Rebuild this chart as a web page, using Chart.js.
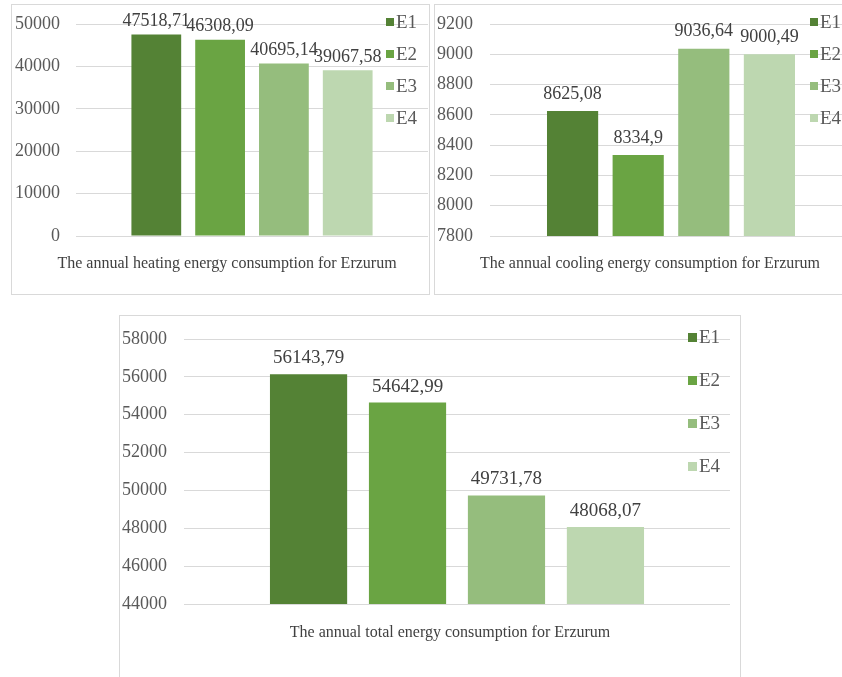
<!DOCTYPE html>
<html>
<head>
<meta charset="utf-8">
<script src="https://cdn.jsdelivr.net/npm/chart.js@4.4.1/dist/chart.umd.min.js"></script>
<style>
  html, body { margin: 0; padding: 0; background: #fff; overflow: hidden; }
  #page { position: relative; width: 842px; height: 677px; overflow: hidden; background: #fff; }
  .panel { position: absolute; box-sizing: border-box; border: 1px solid #d9d9d9; background: #fff; }
  .panel canvas { position: absolute; left: 0; top: 0; }
</style>
</head>
<body>
<div id="page">
  <div class="panel" style="left:11px; top:4px; width:419px; height:291px;">
    <canvas id="heating" width="417" height="289"></canvas>
  </div>
  <div class="panel" style="left:434px; top:4px; width:440px; height:291px;">
    <canvas id="cooling" width="438" height="289"></canvas>
  </div>
  <div class="panel" style="left:119px; top:315px; width:622px; height:400px;">
    <canvas id="total" width="620" height="361"></canvas>
  </div>
</div>
<script>
// series
var seriesNames = ["E1", "E2", "E3", "E4"];
var seriesColors = ["#548235", "#6aa443", "#95bd7d", "#bdd7b0"];

// heating
var heatingCategory = ["The annual heating energy consumption for Erzurum"];
var heatingValues = [47518.71, 46308.09, 40695.14, 39067.58];
var heatingTicks = [0, 10000, 20000, 30000, 40000, 50000];

// cooling
var coolingCategory = ["The annual cooling energy consumption for Erzurum"];
var coolingValues = [8625.08, 8334.9, 9036.64, 9000.49];
var coolingTicks = [7800, 8000, 8200, 8400, 8600, 8800, 9000, 9200];

// total
var totalCategory = ["The annual total energy consumption for Erzurum"];
var totalValues = [56143.79, 54642.99, 49731.78, 48068.07];
var totalTicks = [44000, 46000, 48000, 50000, 52000, 54000, 56000, 58000];

Chart.defaults.font.family = '"Liberation Serif", "Times New Roman", serif';
Chart.defaults.color = "#595959";

// value above each bar, decimal comma
var barLabels = {
    id: "barLabels",
    afterDatasetsDraw: function(chart, args, opts){
        var ctx = chart.ctx;
        ctx.save();
        ctx.font = opts.size + 'px "Liberation Serif", serif';
        ctx.fillStyle = "#404040";
        ctx.textAlign = "center";
        ctx.textBaseline = "middle";
        chart.data.datasets.forEach(function(ds, i){
            chart.getDatasetMeta(i).data.forEach(function(bar, j){
                ctx.fillText(String(ds.data[j]).replace(".", ","), bar.x, bar.y - opts.offset);
            });
        });
        ctx.restore();
    }
};

// legend sitting on the right edge of the plot
var sideLegend = {
    id: "sideLegend",
    afterDraw: function(chart, args, opts){
        var ctx = chart.ctx;
        var a = chart.chartArea;
        ctx.save();
        ctx.font = '19px "Liberation Serif", serif';
        ctx.textAlign = "left";
        ctx.textBaseline = "middle";
        chart.data.datasets.forEach(function(ds, i){
            var y = a.top + opts.first + i * opts.step;
            var x = a.right - opts.inset;
            ctx.fillStyle = ds.backgroundColor;
            ctx.fillRect(x, Math.round(y - opts.box / 2), opts.box, opts.box);
            ctx.fillStyle = "#595959";
            ctx.fillText(ds.label, x + opts.box + 2, y + 1);
        });
        ctx.restore();
    }
};

function makeChart(id, category, values, ticks, cfg){
    var datasets = seriesNames.map(function(name, i){
        return {
            label: name,
            data: [values[i]],
            backgroundColor: seriesColors[i],
            borderWidth: 0,
            barPercentage: 0.78,
            categoryPercentage: 0.725
        };
    });
    return new Chart(document.getElementById(id), {
        type: "bar",
        data: { labels: category, datasets: datasets },
        plugins: [barLabels, sideLegend],
        options: {
            responsive: false,
            animation: false,
            layout: { padding: { left: 0, right: cfg.right, top: cfg.top, bottom: 0 } },
            plugins: {
                legend: { display: false },
                tooltip: { enabled: false },
                barLabels: { size: cfg.labelSize, offset: cfg.labelOffset },
                sideLegend: { first: -2, step: cfg.legendStep, inset: 42, box: cfg.box }
            },
            scales: {
                x: {
                    grid: { display: false, drawTicks: false },
                    border: { display: false },
                    ticks: {
                        color: "#404040",
                        font: { size: 16 },
                        padding: cfg.titlePad,
                        labelOffset: cfg.titleShift,
                        maxRotation: 0,
                        autoSkip: false
                    },
                    afterFit: function(scale){
                        scale.height = cfg.xHeight;
                        scale.paddingLeft = 0;
                        scale.paddingRight = 0;
                    }
                },
                y: {
                    min: ticks[0],
                    max: ticks[ticks.length - 1],
                    grid: { color: "#d9d9d9", lineWidth: 1, drawTicks: false },
                    border: { display: false },
                    ticks: {
                        font: { size: 18 },
                        padding: cfg.tickPad,
                        callback: function(v){ return String(v); }
                    },
                    afterBuildTicks: function(scale){
                        scale.ticks = ticks.map(function(v){ return { value: v }; });
                    },
                    afterFit: function(scale){
                        scale.width = cfg.yWidth;
                        scale.paddingTop = 0;
                        scale.paddingBottom = 0;
                    }
                }
            }
        }
    });
}

makeChart("heating", heatingCategory, heatingValues, heatingTicks, {
    right: 1, top: 19, xHeight: 58, yWidth: 64, tickPad: 16,
    titlePad: 18, titleShift: -25, labelSize: 18, labelOffset: 13,
    legendStep: 32, box: 8
});

makeChart("cooling", coolingCategory, coolingValues, coolingTicks, {
    right: 21, top: 19, xHeight: 58, yWidth: 55, tickPad: 17,
    titlePad: 18, titleShift: -21, labelSize: 18, labelOffset: 17,
    legendStep: 32, box: 8
});

makeChart("total", totalCategory, totalValues, totalTicks, {
    right: 10, top: 23, xHeight: 73, yWidth: 64, tickPad: 17,
    titlePad: 19, titleShift: -7, labelSize: 19, labelOffset: 16,
    legendStep: 43, box: 9
});
</script>
</body>
</html>
